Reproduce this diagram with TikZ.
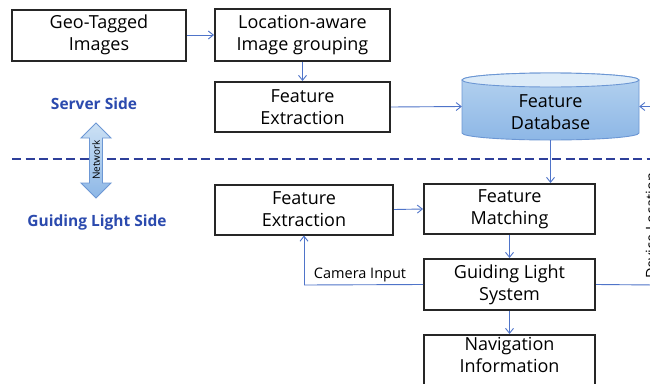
\documentclass[tikz,border=0pt]{standalone}
\usepackage{fontspec}
\setmainfont{Open Sans}
\usetikzlibrary{arrows.meta}
\definecolor{arrowblue}{HTML}{4F74C9}
\definecolor{sideblue}{HTML}{2B4AAE}
\definecolor{dashblue}{HTML}{2E3F9A}
\definecolor{dbtop}{HTML}{DCEBF8}
\definecolor{dbmid}{HTML}{B5D2EF}
\definecolor{dbbot}{HTML}{8DB7E6}
\definecolor{dbline}{HTML}{6C97D4}
\begin{document}
\begin{tikzpicture}[x=1pt,y=-1pt,
  box/.style={draw=black!85,line width=2pt,fill=white,align=center,inner sep=0pt,
    font=\fontsize{18}{22}\selectfont},
  conn/.style={draw=arrowblue,line width=0.9pt,-{Straight Barb[length=5pt,width=8pt]}},
  plain/.style={draw=arrowblue,line width=0.9pt},
  side/.style={text=sideblue,font=\fontsize{15.5}{18}\selectfont\bfseries},
  lbl/.style={font=\fontsize{14.5}{16}\selectfont,inner sep=1pt}]
\useasboundingbox (0,0) rectangle (650,383);
\fill[white] (0,0) rectangle (650,383);

% boxes
\node[box,minimum width=174pt,minimum height=51pt] (geo) at (99,35) {Geo-Tagged\\Images};
\node[box,minimum width=175pt,minimum height=52pt] (loc) at (302.5,35) {Location-aware\\Image grouping};
\node[box,minimum width=175pt,minimum height=50pt] (fes) at (302.5,107) {Feature\\Extraction};
\node[box,minimum width=178pt,minimum height=50pt] (fec) at (304,209.5) {Feature\\Extraction};
\node[box,minimum width=171pt,minimum height=50pt] (fm) at (509.5,209) {Feature\\Matching};
\node[box,minimum width=171pt,minimum height=51pt] (gls) at (509.5,284.5) {Guiding Light\\System};
\node[box,minimum width=171pt,minimum height=62pt,anchor=north] (nav) at (509.5,334) {};
\node[inner sep=0pt,align=center,font=\fontsize{18}{22}\selectfont,anchor=north] (navtxt) at (509.5,337) {Navigation\\Information};

% database cylinder
\shade[top color=dbmid,bottom color=dbbot,draw=dbline,line width=0.9pt]
  (462,80) -- (462,133) arc[start angle=180,end angle=360,x radius=88.5pt,y radius=7pt]
  -- (639,80) arc[start angle=0,end angle=180,x radius=88.5pt,y radius=7pt] -- cycle;
\fill[dbtop,draw=dbline,line width=0.9pt] (550.5,80) ellipse[x radius=88.5pt,y radius=7pt];
\node[inner sep=0pt,minimum width=177pt,minimum height=67pt] (db) at (550.5,106.5) {};
\node[inner sep=0pt,align=center,font=\fontsize{18}{22}\selectfont] (dbtxt) at (550.5,112) {Feature\\Database};

% side labels
\node[side] (srv) at (94,104) {Server Side};
\node[side] (gl) at (97,222) {Guiding Light Side};

% dashed separator
\coordinate (dl) at (12,159);
\coordinate (dr) at (652,159);
\draw[dashblue,line width=2.6pt,dash pattern=on 9pt off 4.5pt] (dl) -- (dr);

% network double arrow
\shade[top color=dbtop!60!dbmid,bottom color=dbbot,draw=dbline,line width=0.9pt]
  (96,123) -- (111,138) -- (102.5,138) -- (102.5,183) -- (111,183) -- (96,198)
  -- (81,183) -- (89.5,183) -- (89.5,138) -- (81,138) -- cycle;
\node[rotate=90,font=\fontsize{10}{12}\selectfont,inner sep=0pt] (net) at (96,160) {Network};

% connectors
\draw[conn] (geo.east) -- (loc.west);
\draw[conn] (loc.south) -- (fes.north);
\draw[conn] (fes.east) -- (db.west);
\draw[conn] (db.south) -- (fm.north -| db.south);
\draw[conn] (fec.east) -- (fm.west);
\draw[conn] (fm.south) -- (gls.north);
\draw[conn] (gls.south) -- (nav.north);
\coordinate (cam) at (304,285);
\draw[plain] (gls.west) -- (cam);
\draw[conn] (cam) -- (fec.south);
\node[lbl,anchor=south] (camlbl) at (360,283) {Camera Input};
\coordinate (rb) at (656,285);
\coordinate (rt) at (656,106.5);
\draw[plain] (gls.east) -- (rb) -- (rt);
\draw[conn] (rt) -- (db.east);
\node[lbl,rotate=90] (dev) at (651,226) {Device Location};
\end{tikzpicture}
\end{document}
